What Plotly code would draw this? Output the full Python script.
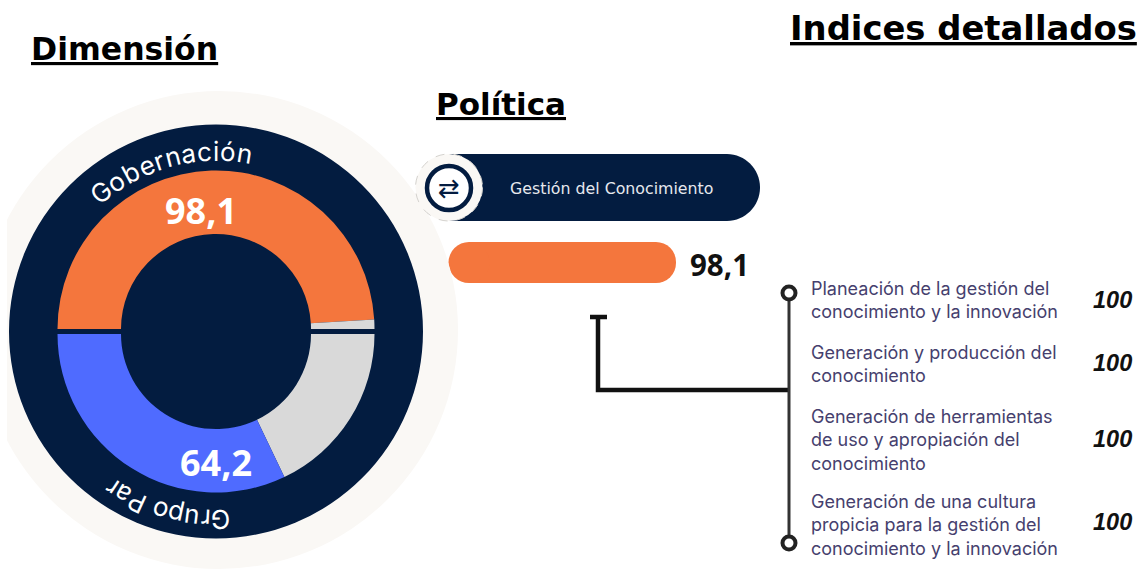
import math
import plotly.graph_objects as go

# ---- data ----
dimension_names = ["Gobernación", "Grupo Par"]
dimension_values = [98.1, 64.2]
policy_name = "Gestión del Conocimiento"
policy_value = 98.1
index_names = [
    "Planeación de la gestión del<br>conocimiento y la innovación",
    "Generación y producción del<br>conocimiento",
    "Generación de herramientas<br>de uso y apropiación del<br>conocimiento",
    "Generación de una cultura<br>propicia para la gestión del<br>conocimiento y la innovación",
]
index_values = [100, 100, 100, 100]
scale_max = 100

# ---- style ----
W, H = 1141, 569
NAVY = "#031C40"
ORANGE = "#F4763D"
BLUE = "#4F6BFF"
GREY = "#D9D9D9"
CREAM = "#FAF8F5"
INK = "#463F6E"
CX, CY = 216, 331.5
RING = 158.5
BAR_L, BAR_R = 469, 676
fmt = lambda v: str(v).replace(".", ",")


def pie_domain(cx, cy, r):
    return dict(x=[(cx - r) / W, (cx + r) / W], y=[1 - (cy + r) / H, 1 - (cy - r) / H])


def half_donut(values, colours, cy):
    return go.Pie(
        values=values,
        marker=dict(colors=colours, line=dict(width=0)),
        hole=95 / RING, sort=False, direction="clockwise",
        rotation=270, textinfo="none", hoverinfo="skip", showlegend=False,
        domain=pie_domain(CX, cy, RING),
    )


HIDDEN = "rgba(0,0,0,0)"
fig = go.Figure()
fig.add_trace(half_donut([dimension_values[0], scale_max - dimension_values[0], scale_max],
                         [ORANGE, GREY, HIDDEN], 329))
fig.add_trace(half_donut([scale_max, scale_max - dimension_values[1], dimension_values[1]],
                         [HIDDEN, GREY, BLUE], 334))
fig.add_trace(go.Bar(
    x=[policy_value], y=[policy_name], orientation="h", marker=dict(color=ORANGE, line=dict(width=0)),
    width=1, hoverinfo="skip", showlegend=False, xaxis="x", yaxis="y",
))
# rounded start of the bar
fig.add_trace(go.Scatter(
    x=[0], y=[policy_name], mode="markers", marker=dict(size=41, color=ORANGE, line=dict(width=0)),
    cliponaxis=False, hoverinfo="skip", showlegend=False, xaxis="x", yaxis="y",
))
# connector drawn in the pixel-aligned overlay axes
fig.add_trace(go.Scatter(
    x=[590, 607, None, 598, 598, 789], y=[317, 317, None, 317, 390, 390],
    mode="lines", line=dict(color="#111111", width=4.5), hoverinfo="skip", showlegend=False,
    xaxis="x2", yaxis="y2",
))
fig.add_trace(go.Scatter(
    x=[789, 789], y=[293, 543], mode="lines+markers",
    line=dict(color="#333333", width=3),
    marker=dict(size=13, color="white", line=dict(color="#222222", width=4)),
    hoverinfo="skip", showlegend=False, xaxis="x2", yaxis="y2",
))


def circle(cx, cy, r, fill, line=None, lw=0, dash=None):
    return dict(type="circle", xref="x2", yref="y2", x0=cx - r, x1=cx + r, y0=cy - r, y1=cy + r,
                fillcolor=fill, line=dict(color=line or fill, width=lw, dash=dash), layer="below")


shapes = [
    circle(219, 330, 239, CREAM),
    dict(type="rect", xref="x2", yref="y2", x0=0, x1=7, y0=0, y1=H, fillcolor="white",
         line=dict(width=0), layer="below"),
    circle(CX, CY, 207, NAVY),
    dict(type="path", xref="x2", yref="y2", layer="below", fillcolor=NAVY, line=dict(width=0),
         path="M 449 154 L 727 154 C 745 154 760 169 760 187.5 C 760 206 745 221 727 221 L 449 221 Z"),
    circle(449, 187.5, 33.5, CREAM, "#D4D2CE", 1, "dash"),
    circle(449, 188, 22, "white", NAVY, 4.5),
]

ann = []


def text(x, y, s, size, colour="black", family="DejaVu Sans", anchor="left", angle=0, align="left"):
    ann.append(dict(x=x, y=y, xref="x2", yref="y2", text=s, showarrow=False, xanchor=anchor,
                    yanchor="middle", align=align, textangle=angle,
                    font=dict(size=size, color=colour, family=family)))


CHAR_W = dict(G=.73, o=.61, b=.62, e=.60, r=.38, n=.60, a=.57, c=.57, i=.25, ó=.61, u=.60, p=.62, P=.62)
CHAR_W[" "] = .28


def arc_text(s, centre_deg, radius, size, spread):
    widths = [CHAR_W[c] * size * spread for c in s]
    pos = -sum(widths) / 2
    for c, w in zip(s, widths):
        deg = centre_deg + math.degrees((pos + w / 2) / radius)
        rad = math.radians(deg)
        if c != " ":
            text(CX + radius * math.sin(rad), CY - radius * math.cos(rad), c, size, "white",
                 "Inter", "center", deg)
        pos += w


arc_text(dimension_names[0], -15.5, 180, 26, 1.08)
arc_text(dimension_names[1], 195.5, 188, 26, 1.05)

text(201, 210, "<b>" + fmt(dimension_values[0]) + "</b>", 36, "white", "Open Sans", "center")
text(216, 462, "<b>" + fmt(dimension_values[1]) + "</b>", 36, "white", "Open Sans", "center")

text(29, 49, "<b><u>Dimensión</u></b>", 31.5)
text(434, 104, "<b><u>Política</u></b>", 31)
text(788, 28, "<b><u>Indices detallados</u></b>", 33.8)

text(611, 188, policy_name, 15.8, "#E6E8EE", "DejaVu Sans", "center")
text(449, 188, "⇄", 26, NAVY, "DejaVu Sans", "center")
text(688, 264, "<b>" + fmt(policy_value) + "</b>", 29.5, "#111111", "Open Sans")

name_y = [300, 364, 439.5, 525]
value_y = [300, 363, 439, 522]
for n, ny, v, vy in zip(index_names, name_y, index_values, value_y):
    text(809, ny, n, 18, INK, "Inter")
    text(1112, vy, f"<b><i>{v}</i></b>", 23.5, "#111111", "Liberation Sans", "center")

fig.update_layout(
    width=W, height=H, margin=dict(l=0, r=0, t=0, b=0),
    paper_bgcolor="white", plot_bgcolor="rgba(0,0,0,0)", barcornerradius=20,
    shapes=shapes, annotations=ann,
    xaxis=dict(domain=[BAR_L / W, (BAR_L + (BAR_R - BAR_L) * scale_max / policy_value) / W],
               range=[0, scale_max], visible=False, fixedrange=True),
    yaxis=dict(domain=[1 - 283 / H, 1 - 242 / H], type="category", range=[-0.5, 0.5],
               visible=False, fixedrange=True),
    xaxis2=dict(domain=[0, 1], range=[0, W], visible=False, fixedrange=True, anchor="y2"),
    yaxis2=dict(domain=[0, 1], range=[H, 0], visible=False, fixedrange=True, anchor="x2"),
)
fig.write_html("out.html", config=dict(displayModeBar=False),
               post_script="document.body.style.margin='0';document.body.style.overflow='hidden';")
